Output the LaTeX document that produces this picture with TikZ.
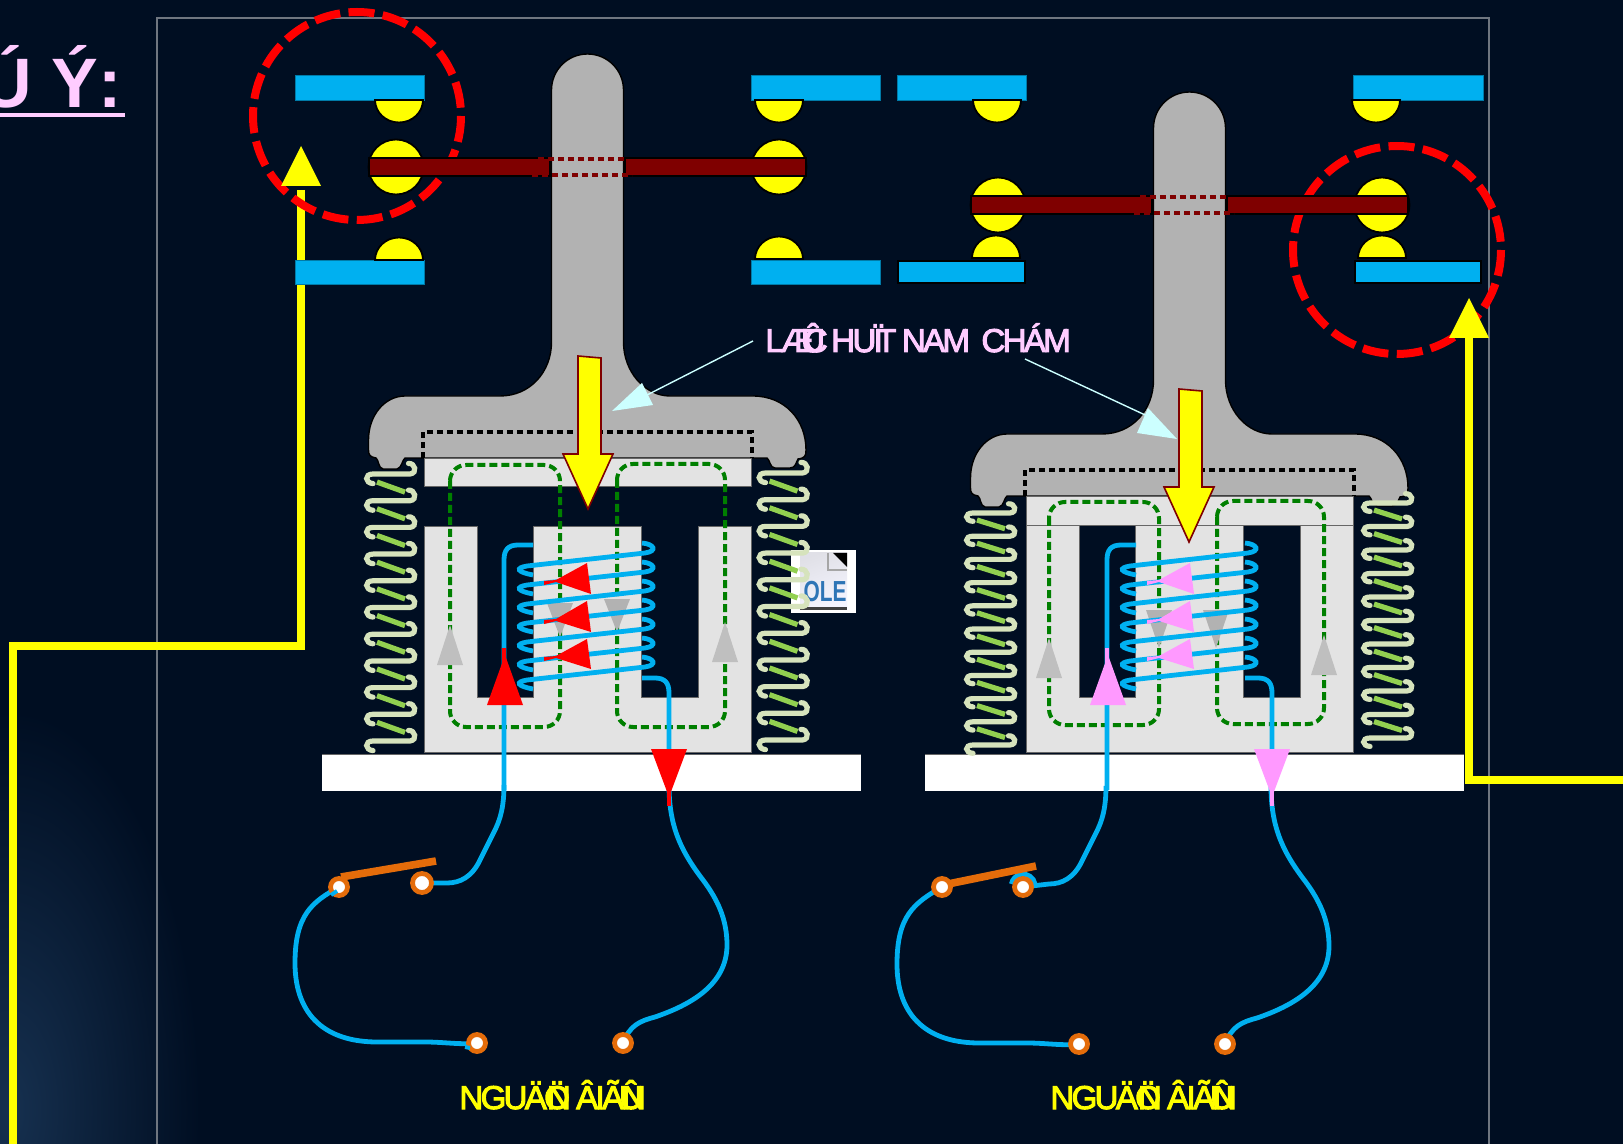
\documentclass[tikz,border=0pt]{standalone}
\usepackage{fontspec}
\setmainfont{Liberation Sans}
\newfontfamily\lab[LetterSpace=-8,FakeBold=3]{Liberation Sans}
\pgfdeclarelayer{top}
\pgfsetlayers{main,top}
\definecolor{bgc}{HTML}{000E22}
\definecolor{glow}{HTML}{16304F}
\definecolor{framec}{HTML}{6F7680}
\definecolor{barblue}{HTML}{00B0F0}
\definecolor{darkred}{HTML}{7F0000}
\definecolor{hubgray}{HTML}{B2B2B2}
\definecolor{coregray}{HTML}{E3E3E3}
\definecolor{tubec}{HTML}{D6E3BC}
\definecolor{barc}{HTML}{92D050}
\definecolor{orangec}{HTML}{E46C0A}
\definecolor{pinkc}{HTML}{FFCCFF}
\definecolor{pinkarrow}{HTML}{FF99FF}
\definecolor{cyanc}{HTML}{CCFFFF}
\definecolor{greenc}{HTML}{007F00}
\definecolor{trigray}{HTML}{BFBFBF}
\definecolor{trigrayd}{HTML}{B2B2B2}
\definecolor{oleblue}{HTML}{2E75B6}
\definecolor{pureyellow}{RGB}{255,255,0}
\definecolor{purered}{RGB}{255,0,0}
\tikzset{
  contactbar/.style={fill=barblue,draw=barblue!70!black,line width=.4pt},
  contactbarb/.style={fill=barblue,draw=black,line width=1pt},
  contact/.style={fill=pureyellow,draw=black,line width=.9pt},
  movebar/.style={fill=darkred,draw=black,line width=.8pt},
  hubshape/.style={fill=hubgray,draw=black,line width=.7pt},
  coreshape/.style={fill=coregray,draw=black!60,line width=.5pt},
  blackdash/.style={draw=black,line width=1.8pt,dash pattern=on 3pt off 2pt},
  reddash/.style={draw=darkred,line width=2pt,dash pattern=on 3pt off 2pt},
  greenloop/.style={draw=greenc,line width=2pt,dash pattern=on 4pt off 2pt,rounded corners=8pt},
  wirec/.style={draw=barblue,line width=2.4pt},
  yellowline/.style={draw=pureyellow,line width=4pt},
  yellowhead/.style={fill=pureyellow},
  dashring/.style={draw=purered,line width=4pt,dash pattern=on 13pt off 4.2pt},
  tube/.style={draw=tubec,line width=2.6pt,line cap=round},
  springbar/.style={draw=barc,line width=2.6pt},
  terminal/.style={circle,fill=white,draw=orangec,line width=2.4pt,minimum size=8.5pt,inner sep=0pt},
  switchbar/.style={draw=orangec,line width=3.8pt},
  callout/.style={draw=cyanc,line width=.7pt},
  bigarrow/.style={fill=pureyellow,draw=darkred,line width=.8pt,line join=miter},
  labeltext/.style={inner sep=0pt,anchor=base west,font=\lab\fontsize{16.5}{18}\selectfont},
}
\newcommand\halfc[3]{\draw[contact] ({#1-24},#2) arc[start angle=180,end angle=#3,x radius=24,y radius=22.5] -- cycle;}
\newcommand\mySpring[4]{%
  \pgfmathsetmacro\myscale{#3/26.5}%
  \foreach \kk in {1,...,#4}{%
    \begin{scope}[shift={(#1,{#2+(\kk-1)*#3})},yscale=\myscale]
      \draw[tube] (42.5,-10.5) .. controls (49,-11) and (52,-1) .. (44,0) -- (7,0) .. controls (-2,0) and (-1,9) .. (7,9.5);
      \ifnum\kk<#4 \draw[springbar] (11,8) -- (39,18);\fi
    \end{scope}}}
\newcommand\armature{%
  \draw[movebar] (369,158) rectangle (550,176);
  \draw[movebar] (625,158) rectangle (806,176);
  \draw[hubshape] (551.5,90) arc[start angle=180,end angle=360,radius=36]
    -- (623.5,342) .. controls (623.5,372) and (645,396) .. (670,396) -- (753,396)
    .. controls (785,396) and (806,420) .. (806,450)
    .. controls (806,456) and (805,458) .. (798,459)
    .. controls (796,462) and (796,468) .. (790,468) -- (775,468)
    .. controls (770,468) and (770,460) .. (767,458) -- (405,458)
    .. controls (402,460) and (402,468) .. (397,469) -- (383,469)
    .. controls (378,468) and (379,460) .. (376,458)
    .. controls (370,457) and (368.5,455) .. (368.5,450) -- (368.5,440)
    .. controls (368.5,415) and (385,396) .. (405,396) -- (500,396)
    .. controls (530,396) and (551.5,372) .. (551.5,342) -- cycle;
  \draw[reddash] (538,159) -- (625,159);
  \draw[reddash] (532,175) -- (632,175);
  \draw[blackdash] (423,458) -- (423,432) -- (752,432) -- (752,458);
}
\newcommand\coil[1]{%
  \foreach \i in {0,...,6}{%
    \draw[wirec] (642,{543+19*\i}) .. controls (654,{544+19*\i}) and (658,{551+19*\i}) .. (645,{553+19*\i})
      -- (527,{566+19*\i}) .. controls (515,{568+19*\i}) and (517,{572+19*\i}) .. (533,{575+19*\i});}
  \draw[wirec] (533,545) -- (518,545) .. controls (508,545) and (504,550) .. (504,560) -- (504,790);
  \draw[wirec] (642,678) -- (655,678) .. controls (665,678) and (669,683) .. (669,693) -- (669,785);
  % coloured current arrows
  \fill[#1] (502,648) rectangle (506,665);
  \fill[#1] (487,705) -- (523,705) -- (505,655) -- cycle;
  \fill[#1] (651,749) -- (687,749) -- (669,797) -- cycle;
  \fill[#1] (666.5,790) rectangle (671,806);
  \foreach \ya/\yb/\yc in {563/583/594,601/622/632,639/659/669}{%
    \fill[#1] (587,\ya) -- (591,\yc) -- (556,{\yb-1}) -- (544,{\yb+2}) -- (544,{\yb-2}) -- (556,{\yb-3}) -- cycle;}
}
\newcommand\leads[4]{%
  \draw[wirec] (504,785) .. controls (504,815) and (497,826) .. (490,840) -- (480,860) .. controls (472,877) and (460,883) .. (447,883) -- (#2.center);
  \draw[wirec] (#1.center) .. controls (312,902) and (295,915) .. (295,963) .. controls (295,1010) and (320,1041) .. (375,1042) -- (425,1042) .. controls (445,1042) and (460,1045) .. (#3.center);
  \draw[wirec] (669,785) .. controls (669,825) and (680,850) .. (703,880) .. controls (718,900) and (727,920) .. (727,945) .. controls (727,985) and (690,1005) .. (655,1017) .. controls (640,1021) and (630,1025) .. (#4.center);
}
\newcommand\yarrow{\draw[bigarrow] (578,356) -- (601,358) -- (601,454) -- (613,454) -- (588,509) -- (563,454) -- (578,454) -- cycle;}
\begin{document}
\begin{tikzpicture}[x=.5pt,y=-.5pt]
\useasboundingbox (0,0) rectangle (1623,1144);
\clip (0,0) rectangle (1623,1144);
\fill[bgc] (0,0) rectangle (1623,1144);
\shade[inner color=glow,outer color=bgc] (10,1110) ellipse (190 and 400);
% frame
\draw[framec,line width=.9pt] (157,1160) -- (157,18) -- (1489,18) -- (1489,1160);

% title
\node[inner sep=0pt,anchor=base west,text=pinkc,font=\bfseries\fontsize{35}{40}\selectfont] (title) at (-18.5,108) {Ú Ý:};
\fill[pinkc] (0,113) rectangle (125,117);

% yellow output lines
\draw[yellowline] (301,190) -- (301,646) -- (13,646) -- (13,1160);
\draw[yellowline] (1469,330) -- (1469,780) -- (1640,780);

% dashed rings
\draw[dashring] (357,116) circle[radius=104];
\draw[dashring] (1397,250) circle[radius=104];

% yellow arrow heads
\fill[yellowhead] (281,186) -- (321,186) -- (301,146) -- cycle;
\fill[yellowhead] (1449,338) -- (1489,338) -- (1469,298) -- cycle;

% moving contacts
\foreach \cx/\cy in {396/167,779/167,998/205,1382/205}
  \draw[contact] (\cx,\cy) circle[radius=27.5];

% left relay fixed contacts
\draw[contactbar] (295,75) rectangle (424,100);
\draw[contactbar] (295,260) rectangle (424,284);
\draw[contactbar] (751,75) rectangle (880,100);
\draw[contactbar] (751,260) rectangle (880,284);
\halfc{399}{100}{0}
\halfc{399}{260}{360}
\halfc{779}{100}{0}
\halfc{779}{259}{360}
% right relay fixed contacts
\draw[contactbar] (897,75) rectangle (1026,100);
\draw[contactbarb] (898,261) rectangle (1025,283);
\draw[contactbar] (1353,75) rectangle (1483,100);
\draw[contactbarb] (1355,261) rectangle (1481,283);
\halfc{997}{100}{0}
\halfc{996}{258}{360}
\halfc{1376}{100}{0}
\halfc{1382}{258}{360}

% armatures
\armature
\begin{scope}[shift={(602,38)}]\armature\end{scope}

% white bases
\fill[white] (322,754) rectangle (861,791);
\draw[black!60,line width=.5pt] (322,754) -- (861,754);
\fill[white] (925,754) rectangle (1464,791);
\draw[black!60,line width=.5pt] (925,754) -- (1464,754);

% left relay core
\draw[coreshape] (424,459) rectangle (751,487);
\draw[coreshape] (424,527) -- (477,527) -- (477,697) -- (533,697) -- (533,527) -- (641,527) -- (641,697) -- (698,697) -- (698,527) -- (751,527) -- (751,752) -- (424,752) -- cycle;
% right relay core
\draw[coreshape] (1026,497) rectangle (1353,526);
\draw[coreshape] (1026,526) -- (1079,526) -- (1079,697) -- (1135,697) -- (1135,526) -- (1243,526) -- (1243,697) -- (1300,697) -- (1300,526) -- (1353,526) -- (1353,752) -- (1026,752) -- cycle;

% magnetic flux loops
\draw[greenloop] (450,465) rectangle (560,727);
\draw[greenloop] (617,464) rectangle (725,727);
\draw[greenloop] (1049,502) rectangle (1159,725);
\draw[greenloop] (1217,501) rectangle (1324,724);

% flux arrows
\fill[trigray] (437,665) -- (463,665) -- (450,625) -- cycle;
\fill[trigray] (712,662) -- (738,662) -- (725,622) -- cycle;
\fill[trigrayd] (547,603) -- (573,603) -- (560,637) -- cycle;
\fill[trigrayd] (604,599) -- (630,599) -- (617,632) -- cycle;
\fill[trigray] (1036,678) -- (1062,678) -- (1049,638) -- cycle;
\fill[trigray] (1311,675) -- (1337,675) -- (1324,635) -- cycle;
\fill[trigrayd] (1146,610) -- (1172,610) -- (1159,648) -- cycle;
\fill[trigrayd] (1203,610) -- (1229,610) -- (1216,648) -- cycle;

% OLE icon
\fill[white] (791,550) rectangle (856,613);
\shade[top color=blue!22!black!12,bottom color=blue!4,shading angle=20] (800,553) rectangle (847,609);
\fill[black!75] (800,607) rectangle (847,609.5);
\draw[black!35,line width=.8pt] (828,553) -- (828,570) -- (847,570);
\fill[black] (833,553) -- (847,553) -- (847,567) -- cycle;
\node[inner sep=0pt,text=oleblue,font=\bfseries\fontsize{14.5}{15}\selectfont,xscale=.72] (ole) at (825,592) {OLE};

% springs
\mySpring{366}{474}{26.7}{11}
\mySpring{758.5}{473}{26.7}{11}
\mySpring{966}{513}{23.2}{11}
\mySpring{1363}{503}{23.5}{11}

% terminals and switches
\begin{pgfonlayer}{top}
\node[terminal] (ta) at (339,887) {};
\node[terminal,minimum size=9.5pt] (tb) at (422,883) {};
\node[terminal] (tc) at (477,1043) {};
\node[terminal] (td) at (623,1043) {};
\node[terminal] (te) at (942,887) {};
\node[terminal] (tf) at (1023,887) {};
\node[terminal] (tg) at (1079,1044) {};
\node[terminal] (th) at (1225,1044) {};
\draw[switchbar] (341,877) -- (436,861);
\draw[switchbar] (948,884) -- (1036,866);
\draw[wirec,line width=2pt] (331,895) -- (337,891);
\draw[wirec,line width=2pt] (465,1047) -- (470,1048);
\end{pgfonlayer}
\leads{ta}{tb}{tc}{td}
\begin{scope}[shift={(602,1)}]\leads{te}{tf}{tg}{th}\end{scope}
\draw[wirec] (1035,884) arc[start angle=-10,end angle=-170,radius=12];

% coils
\coil{purered}
\begin{scope}[shift={(603,0)}]\coil{pinkarrow}\end{scope}

% force arrows
\yarrow
\begin{scope}[shift={(601,33)}]\yarrow\end{scope}

% callouts
\node[labeltext,text=pinkc] (force) at (765,352) {LÆ\kern-6.5ptÛ\kern-10.5ptC\kern-1.5pt{} HUÏ\kern-3.3ptT\kern-.5pt{} NAM\kern2.5pt{} CHÁM};
\coordinate (fa) at (753,341);
\coordinate (fb) at (1025,359);
\draw[callout] (fa) -- (647,395);
\fill[cyanc] (612,411) -- (642,383) -- (653,405) -- cycle;
\draw[callout] (fb) -- (1158,421);
\fill[cyanc] (1177,439) -- (1137,433) -- (1148,408) -- cycle;

% source labels
\node[labeltext,text=pureyellow] (srca) at (459,1109) {NGUÄÖ\kern-11.5ptN\kern-.5pt{} ÂIÃ\kern-2.5ptÛ\kern-10.5ptN};
\node[labeltext,text=pureyellow] (srcb) at (1050,1109) {NGUÄÖ\kern-11.5ptN\kern-.5pt{} ÂIÃ\kern-2.5ptÛ\kern-10.5ptN};
\end{tikzpicture}
\end{document}
